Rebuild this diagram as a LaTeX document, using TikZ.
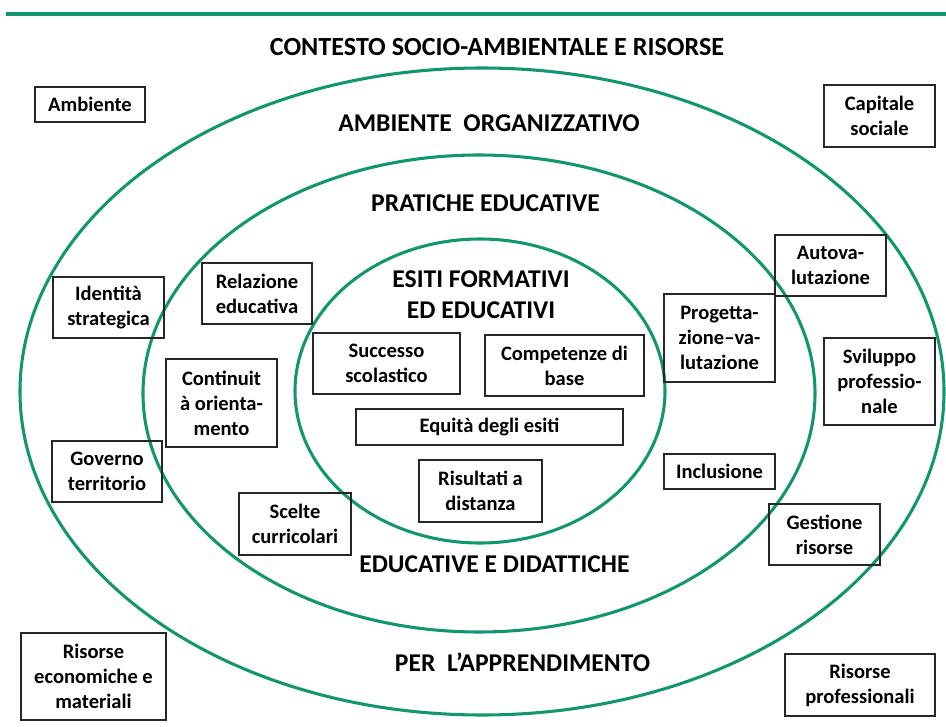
\documentclass[tikz,border=0pt]{standalone}
\usepackage{fontspec}
\setmainfont{Carlito}
\usepackage{tikz}
\definecolor{ringgreen}{RGB}{18,150,112}

\tikzset{
  ring/.style={draw=ringgreen, line width=2.3pt},
  box/.style={draw=black!85, line width=1pt, inner sep=0pt, align=center,
    font=\fontsize{15.4}{18.8}\selectfont\bfseries},
  layer/.style={align=center, inner sep=0pt, font=\fontsize{19.2}{23.5}\selectfont\bfseries}
}

\begin{document}
\begin{tikzpicture}[x=0.75pt, y=-0.75pt]
    \useasboundingbox (0,0) rectangle (946,727);

    % Draw top rule
    \draw[ringgreen, line width=3pt] (6,14) -- (946,14);

    % Draw nested rings
    \draw[ring] (482,391.5) ellipse [x radius=462, y radius=323.5];
    \draw[ring] (479,393.5) ellipse [x radius=336, y radius=238.5];
    \draw[ring] (480,391) ellipse [x radius=185, y radius=152];

    % Layer titles
    \node[layer, font=\fontsize{19.6}{23.5}\selectfont\bfseries] (contesto) at (497,47) {CONTESTO SOCIO-AMBIENTALE E RISORSE};
    \node[layer] (amborg) at (489,123.5) {AMBIENTE\ \ ORGANIZZATIVO};
    \node[layer] (pratiche) at (485.5,203.5) {PRATICHE EDUCATIVE};
    \node[layer] (esiti) at (481,295) {ESITI FORMATIVI\\ED EDUCATIVI};
    \node[layer] (didattiche) at (494.5,564.5) {EDUCATIVE E DIDATTICHE};
    \node[layer] (apprend) at (522.5,662) {PER\ \ L’APPRENDIMENTO};

    % Boxes: name/x/y/width/height/text
    \foreach \n/\x/\y/\w/\h/\t in {
      ambiente/90/104.5/110/35/{Ambiente},
      capitale/879.5/116/111/62/{Capitale\\sociale},
      identita/108.5/307.5/111/61/{Identità\\strategica},
      relazione/257/293.5/110/61/{Relazione\\educativa},
      autoval/830.5/265.5/111/61/{Autova-\\lutazione},
      progett/719.5/338/111/88/{Progetta-\\zione–va-\\lutazione},
      sviluppo/879.5/381.5/111/87/{Sviluppo\\professio-\\nale},
      continuita/221.5/403/111/88/{Continuit\\à orienta-\\mento},
      successo/386.5/363.5/147/61/{Successo\\scolastico},
      competenze/564.5/365.5/159/61/{Competenze di\\base},
      equita/489.5/427/267/36/{Equità degli esiti},
      risultati/480.5/491/123/62/{Risultati a\\distanza},
      governo/107/471.5/110/61/{Governo\\territorio},
      scelte/295/524/112/62/{Scelte\\curricolari},
      inclusione/719.5/471.5/111/35/{Inclusione},
      gestione/824.5/534.5/111/61/{Gestione\\risorse},
      riseco/93.5/676.5/145/87/{Risorse\\economiche e\\materiali},
      risprof/860/685/150/62/{Risorse\\professionali}} {
      \node[box, minimum width=\w*0.75pt, minimum height=\h*0.75pt] (\n) at (\x,\y) {\t};
    }
\end{tikzpicture}
\end{document}
